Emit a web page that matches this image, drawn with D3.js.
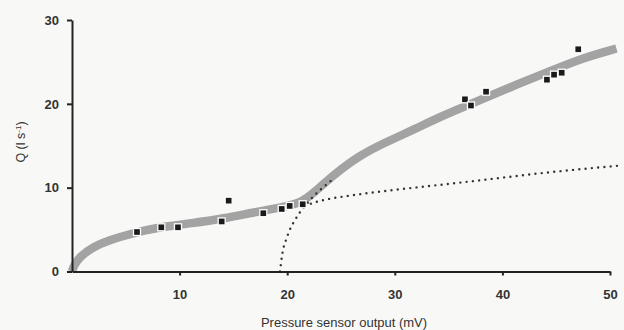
<!DOCTYPE html>
<html><head><meta charset="utf-8">
<script src="https://cdn.jsdelivr.net/npm/d3@7"></script>
<style>
body{margin:0;background:#f8f9f7;}
svg{display:block;font-family:"Liberation Sans",Arial,sans-serif;}
</style></head>
<body><svg id="c" width="624" height="330"></svg>
<script>
// Measured points: pressure sensor output (mV) vs discharge Q (l s-1)
const obsX = [6.04, 8.30, 9.85, 13.91, 14.56, 17.78, 19.49, 20.23, 21.44, 36.52, 37.08, 38.48, 44.14, 44.80, 45.51, 47.05];
const obsY = [4.71, 5.27, 5.27, 5.97, 8.45, 6.95, 7.46, 7.82, 8.02, 20.54, 19.80, 21.45, 22.88, 23.48, 23.71, 26.51];
// Thick grey rating curve
const fitX = [0, 0.19, 0.74, 1.98, 3.53, 5.08, 6.94, 8.02, 11.12, 14.22, 16.5, 19.64, 21.3, 22.43, 24.28, 26.77, 29.25, 31.72, 34.2, 38.22, 41.32, 44.42, 47.52, 50.6];
const fitY = [0, 0.78, 1.77, 2.96, 3.76, 4.35, 4.95, 5.25, 5.75, 6.35, 6.95, 7.7, 8.2, 9.33, 11.51, 13.9, 15.48, 16.88, 18.47, 20.6, 22.3, 23.9, 25.5, 26.6];
// Dotted curve, steep branch
const steepX = [19.33, 19.58, 19.89, 20.26, 20.72, 21.19, 21.65, 22.4, 23.05, 23.67, 24.14];
const steepY = [0, 2.36, 3.76, 5.03, 6.14, 7.06, 7.81, 8.9, 9.72, 10.4, 10.9];
// Dotted curve, flat branch
const flatX = [21.65, 22.43, 23.67, 25.53, 27.39, 30.48, 36.06, 41.01, 44.12, 47.21, 50.8];
const flatY = [7.81, 8.2, 8.6, 9.0, 9.33, 9.81, 10.6, 11.35, 11.8, 12.2, 12.62];
const xTicks = [10, 20, 30, 40, 50];
const yTicks = [0, 10, 20, 30];

const svg = d3.select("#c");
const x = d3.scaleLinear().domain([0, 50]).range([72, 610]);
const y = d3.scaleLinear().domain([0, 30]).range([271.5, 20]);

// grey band
const line = d3.line().x(d => x(d[0])).y(d => y(d[1]));
svg.append("path")
  .attr("d", line.curve(d3.curveBasis)(fitX.map((v, i) => [v, fitY[i]])))
  .attr("fill", "none").attr("stroke", "#a3a3a3").attr("stroke-width", 8.5)
  .attr("stroke-linecap", "butt");

// dotted curves
[[steepX, steepY], [flatX, flatY]].forEach(([xs, ys]) => {
  svg.append("path")
    .attr("d", d3.line().x(d => x(d[0])).y(d => y(d[1])).curve(d3.curveMonotoneX)(xs.map((v, i) => [v, ys[i]])))
    .attr("fill", "none").attr("stroke", "#333").attr("stroke-width", 2.4)
    .attr("stroke-linecap", "round").attr("stroke-dasharray", "0 6.3");
});

// axes
const xAxis = svg.append("g").attr("transform", `translate(0,${y(0)})`)
  .call(d3.axisBottom(x).tickValues(xTicks).tickSize(4).tickPadding(14).tickSizeOuter(0));
const yAxis = svg.append("g").attr("transform", `translate(${x(0)},0)`)
  .call(d3.axisLeft(y).tickValues(yTicks).tickSize(5).tickPadding(8).tickSizeOuter(0));
[xAxis, yAxis].forEach(g => {
  g.select(".domain").attr("stroke", "#222").attr("stroke-width", 2);
  g.selectAll(".tick line").attr("stroke", "#222").attr("stroke-width", 2);
  g.selectAll(".tick text").attr("fill", "#333").attr("font-size", 13).attr("font-weight", "bold")
    .attr("font-family", "'Liberation Sans', Arial, sans-serif");
});

// points
svg.append("g").selectAll("rect").data(obsX.map((v, i) => [v, obsY[i]])).join("rect")
  .attr("x", d => x(d[0]) - 3.5).attr("y", d => y(d[1]) - 3.5)
  .attr("width", 7).attr("height", 7)
  .attr("fill", "#1a1a1a").attr("stroke", "#fff").attr("stroke-width", 1.3);

// labels
svg.append("text").attr("x", 344).attr("y", 327).attr("text-anchor", "middle")
  .attr("font-size", 13).attr("fill", "#333").text("Pressure sensor output (mV)");
const yl = svg.append("text").attr("transform", "translate(25,142) rotate(-90)")
  .attr("text-anchor", "middle").attr("font-size", 12.5).attr("fill", "#333");
yl.append("tspan").text("Q (l s");
yl.append("tspan").attr("font-size", 8).attr("dy", -4).text("-1");
yl.append("tspan").attr("dy", 4).text(")");
</script></body></html>
